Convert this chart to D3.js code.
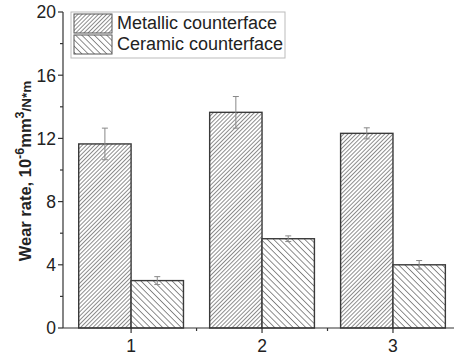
<!DOCTYPE html>
<html><head><meta charset="utf-8">
<script src="https://cdn.jsdelivr.net/npm/d3@7"></script>
<style>body{margin:0;background:#fff}svg{display:block}</style>
</head><body>
<script>
const categories = [1, 2, 3];
const seriesNames = ["Metallic counterface", "Ceramic counterface"];
const metallic = [11.65, 13.65, 12.32];
const metallicErr = [1.0, 1.0, 0.35];
const ceramic = [3.0, 5.65, 4.0];
const ceramicErr = [0.25, 0.18, 0.27];
const yTicks = [0, 4, 8, 12, 16, 20];
const yMinor = [2, 6, 10, 14, 18];
const xMinor = [1.5, 2.5];

const W = 454, H = 361;
const svg = d3.select("body").append("svg").attr("width", W).attr("height", H);
const defs = svg.append("defs");
function hatch(id, angle, gap) {
  const p = defs.append("pattern").attr("id", id).attr("patternUnits", "userSpaceOnUse")
    .attr("width", gap).attr("height", 10).attr("patternTransform", `rotate(${angle})`);
  p.append("rect").attr("width", gap).attr("height", 10).attr("fill", "#fff");
  p.append("line").attr("x1", gap/2).attr("x2", gap/2).attr("y1", 0).attr("y2", 10)
    .attr("stroke", "#808080").attr("stroke-width", 0.9);
}
hatch("hM", 45, 2.9);
hatch("hC", -45, 4.4);

const x = d3.scaleLinear().domain([0.48, 3.466]).range([63, 454]);
const y = d3.scaleLinear().domain([0, 20]).range([328, 12]);
const bw = x(1.4) - x(1);

const series = [
  {vals: metallic, err: metallicErr, off: -bw, fill: "url(#hM)"},
  {vals: ceramic, err: ceramicErr, off: 0, fill: "url(#hC)"}
];
series.forEach(s => {
  svg.append("g").selectAll("rect").data(categories).join("rect")
    .attr("x", (d) => x(d) + s.off).attr("width", bw)
    .attr("y", (d, i) => y(s.vals[i])).attr("height", (d, i) => y(0) - y(s.vals[i]))
    .attr("fill", s.fill).attr("stroke", "#3a3a3a").attr("stroke-width", 1.4);
});
series.forEach(s => {
  const g = svg.append("g").attr("stroke", "#888").attr("stroke-width", 1);
  categories.forEach((d, i) => {
    const cx = x(d) + s.off + bw / 2;
    const top = y(s.vals[i] + s.err[i]), bot = y(s.vals[i] - s.err[i]);
    g.append("line").attr("x1", cx).attr("x2", cx).attr("y1", top).attr("y2", bot);
    g.append("line").attr("x1", cx - 3).attr("x2", cx + 3).attr("y1", top).attr("y2", top);
    g.append("line").attr("x1", cx - 3).attr("x2", cx + 3).attr("y1", bot).attr("y2", bot);
  });
});

// axes
const font = "Arial, 'Liberation Sans', sans-serif";
const ax = svg.append("g").attr("stroke", "#333").attr("stroke-width", 1.2);
ax.append("line").attr("x1", 63).attr("x2", 63).attr("y1", y(20)).attr("y2", y(0));
ax.append("line").attr("x1", 63).attr("x2", 454).attr("y1", y(0)).attr("y2", y(0));
yTicks.forEach(t => ax.append("line").attr("x1", 58).attr("x2", 63).attr("y1", y(t)).attr("y2", y(t)));
yMinor.forEach(t => ax.append("line").attr("x1", 60).attr("x2", 63).attr("y1", y(t)).attr("y2", y(t)));
categories.forEach(t => ax.append("line").attr("x1", x(t)).attr("x2", x(t)).attr("y1", y(0)).attr("y2", y(0) + 5));
xMinor.forEach(t => ax.append("line").attr("x1", x(t)).attr("x2", x(t)).attr("y1", y(0)).attr("y2", y(0) + 3));

svg.append("g").selectAll("text").data(yTicks).join("text")
  .attr("x", 56).attr("y", d => y(d)).attr("dy", "0.36em").attr("text-anchor", "end")
  .attr("font-family", font).attr("font-size", 17.5).attr("fill", "#222").text(d => d);
svg.append("g").selectAll("text").data(categories).join("text")
  .attr("x", d => x(d)).attr("y", 352).attr("text-anchor", "middle")
  .attr("font-family", font).attr("font-size", 17.5).attr("fill", "#222").text(d => d);

const yl = svg.append("text").attr("transform", "translate(31,171) rotate(-90)")
  .attr("text-anchor", "middle").attr("font-family", font).attr("font-size", 16.5)
  .attr("font-weight", "bold").attr("fill", "#222");
yl.append("tspan").text("Wear rate, 10");
yl.append("tspan").attr("dy", -7).attr("font-size", 12.5).text("-6");
yl.append("tspan").attr("dy", 7).text("mm");
yl.append("tspan").attr("dy", -7).attr("font-size", 12.5).text("3");
yl.append("tspan").attr("dy", 7).attr("font-size", 13.5).text("/N*m");

// legend
const lg = svg.append("g");
lg.append("rect").attr("x", 71).attr("y", 12).attr("width", 214).attr("height", 46)
  .attr("fill", "#fff").attr("stroke", "#bbb").attr("stroke-width", 1);
["url(#hM)", "url(#hC)"].forEach((f, i) => {
  lg.append("rect").attr("x", 74).attr("y", 14 + i * 21).attr("width", 38).attr("height", 19)
    .attr("fill", f).attr("stroke", "#555").attr("stroke-width", 1);
  lg.append("text").attr("x", 117).attr("y", 29 + i * 21).attr("font-family", font)
    .attr("font-size", 18).attr("fill", "#222").text(seriesNames[i]);
});
</script>
</body></html>
